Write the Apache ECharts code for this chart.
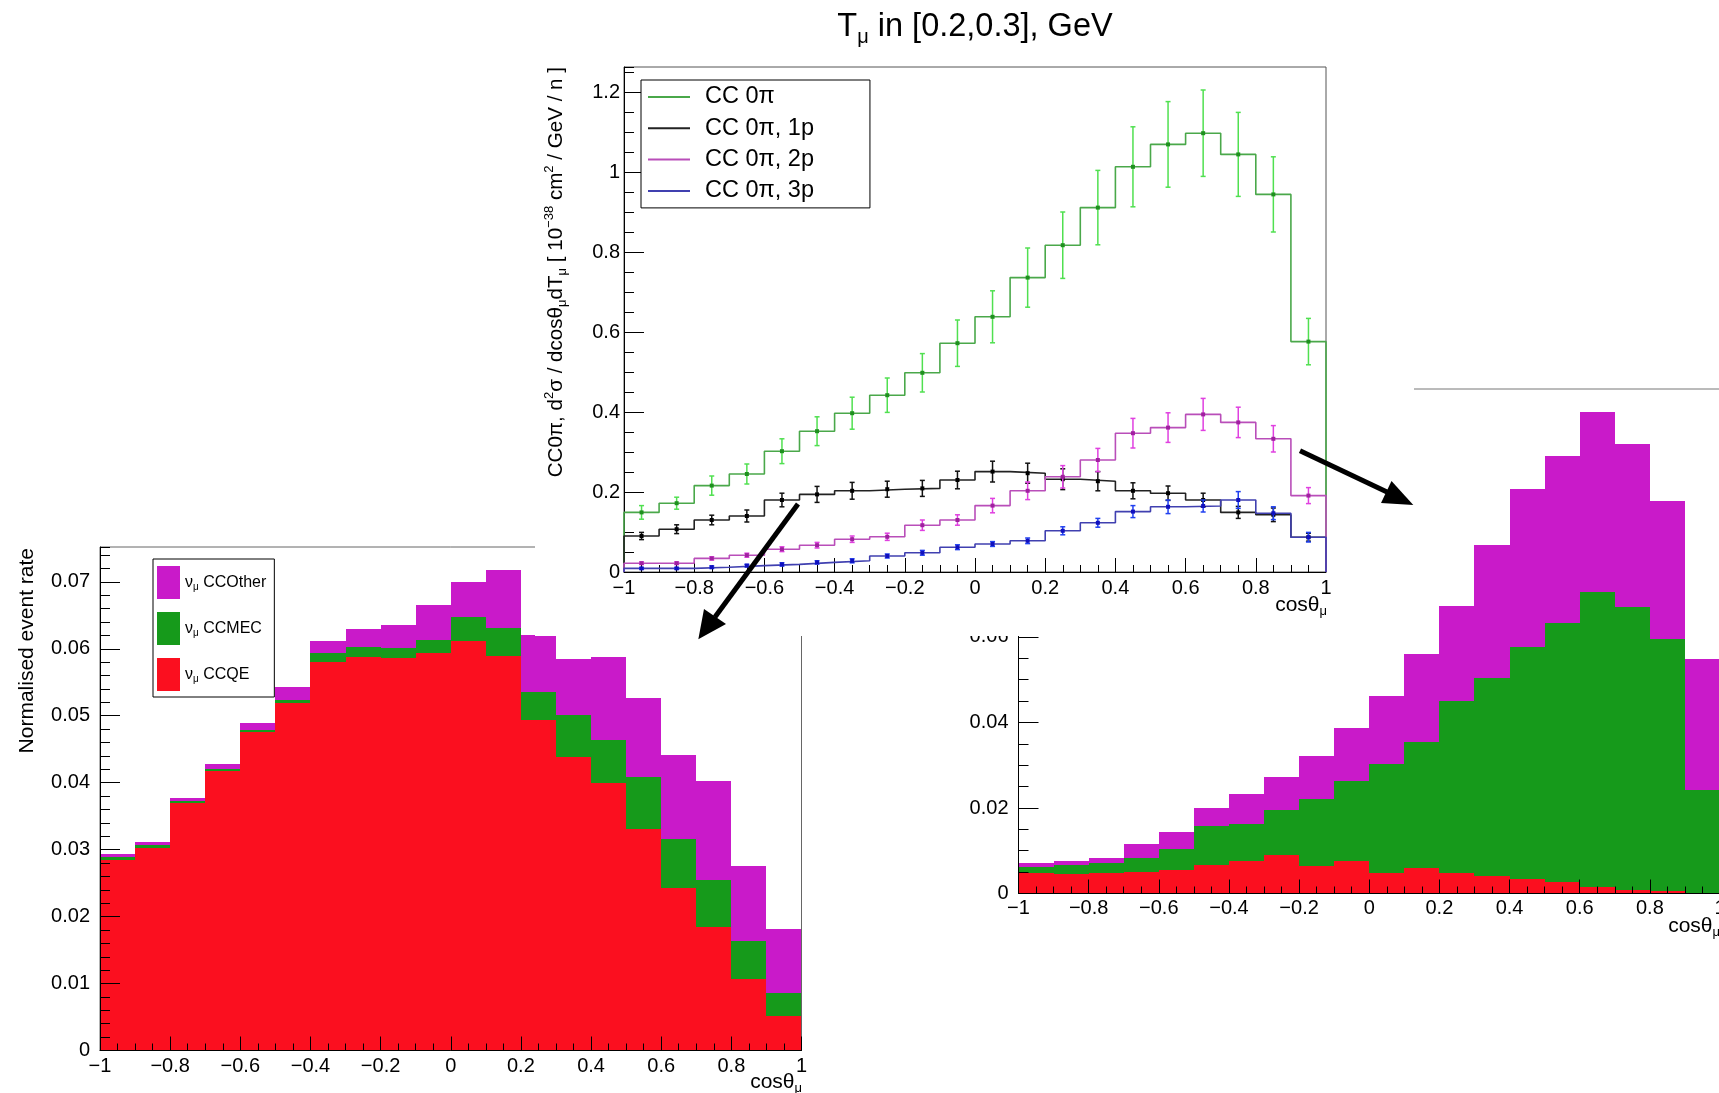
<!DOCTYPE html>
<html><head><meta charset="utf-8">
<script src="https://cdn.jsdelivr.net/npm/echarts@6/dist/echarts.min.js"></script>
<style>html,body{margin:0;padding:0;background:#fff;overflow:hidden}#c{width:1719px;height:1093px}</style>
</head><body><div id="c"></div>
<script>
// ---------- data ----------
const binEdges = [-1,-0.9,-0.8,-0.7,-0.6,-0.5,-0.4,-0.3,-0.2,-0.1,0,0.1,0.2,0.3,0.4,0.5,0.6,0.7,0.8,0.9,1];

// central panel: CC0pi cross sections (1e-38 cm2/GeV/n)
const seriesNames = ['CC 0π', 'CC 0π, 1p', 'CC 0π, 2p', 'CC 0π, 3p'];
const cc0pi     = [0.149,0.172,0.216,0.245,0.302,0.352,0.397,0.442,0.498,0.572,0.638,0.736,0.817,0.911,1.013,1.069,1.097,1.044,0.944,0.576];
const cc0piErr  = [0.017,0.015,0.024,0.025,0.031,0.036,0.040,0.043,0.048,0.058,0.065,0.074,0.083,0.093,0.100,0.107,0.108,0.105,0.094,0.058];
const cc0pi1p    = [0.090,0.107,0.130,0.140,0.180,0.194,0.203,0.207,0.209,0.230,0.251,0.247,0.232,0.227,0.203,0.197,0.180,0.149,0.143,0.087];
const cc0pi1pErr = [0.009,0.011,0.012,0.015,0.017,0.020,0.021,0.020,0.020,0.022,0.026,0.025,0.026,0.024,0.020,0.018,0.017,0.015,0.017,0.010];
const cc0pi2p    = [0.022,0.022,0.034,0.042,0.057,0.067,0.082,0.088,0.117,0.130,0.166,0.203,0.238,0.280,0.347,0.361,0.394,0.374,0.333,0.191];
const cc0pi2pErr = [0.003,0.003,0.004,0.005,0.006,0.007,0.008,0.009,0.013,0.013,0.018,0.022,0.028,0.029,0.037,0.037,0.040,0.038,0.033,0.020];
const cc0pi3p    = [0.009,0.009,0.012,0.016,0.019,0.024,0.028,0.040,0.048,0.062,0.070,0.078,0.103,0.123,0.151,0.163,0.165,0.180,0.147,0.087];
const cc0pi3pErr = [0.002,0.002,0.003,0.003,0.004,0.004,0.005,0.005,0.006,0.006,0.006,0.007,0.010,0.011,0.015,0.017,0.015,0.021,0.016,0.012];

// left panel: normalised event rate, stacked (bottom -> top)
const leftNames = ['CCOther', 'CCMEC', 'CCQE'];
const leftCCQE    = [0.0284,0.0303,0.0369,0.0417,0.0475,0.0519,0.0580,0.0587,0.0586,0.0593,0.0612,0.0589,0.0494,0.0438,0.0399,0.0331,0.0243,0.0185,0.0107,0.0052];
const leftCCMEC   = [0.0005,0.0004,0.0003,0.0004,0.0003,0.0005,0.0013,0.0015,0.0015,0.0020,0.0035,0.0042,0.0041,0.0063,0.0064,0.0078,0.0073,0.0069,0.0057,0.0034];
const leftCCOther = [0.0005,0.0005,0.0005,0.0007,0.0011,0.0019,0.0018,0.0027,0.0035,0.0052,0.0053,0.0087,0.0085,0.0083,0.0124,0.0118,0.0125,0.0148,0.0112,0.0095];

// right panel: normalised event rate, stacked (bottom -> top)
const rightCCQE    = [0.0047,0.0045,0.0048,0.0051,0.0055,0.0066,0.0076,0.0090,0.0065,0.0076,0.0048,0.0060,0.0047,0.0041,0.0035,0.0026,0.0016,0.0009,0.0005,0.0002];
const rightCCMEC   = [0.0015,0.0021,0.0024,0.0033,0.0050,0.0092,0.0086,0.0105,0.0156,0.0187,0.0254,0.0295,0.0403,0.0464,0.0542,0.0606,0.0689,0.0660,0.0590,0.0241];
const rightCCOther = [0.0010,0.0011,0.0012,0.0031,0.0039,0.0042,0.0070,0.0078,0.0100,0.0125,0.0160,0.0205,0.0223,0.0309,0.0368,0.0391,0.0421,0.0382,0.0323,0.0306];

// ---------- helpers ----------
const FONT = '"Liberation Sans", Arial, Helvetica, sans-serif';
const C_RED = '#fb0f1f', C_GREEN = '#169a1b', C_MAG = '#c91ac9';

function stepPoints(vals) {
  const pts = [[binEdges[0], 0]];
  vals.forEach((v, i) => { pts.push([binEdges[i], v]); pts.push([binEdges[i + 1], v]); });
  pts.push([binEdges[binEdges.length - 1], 0]);
  return pts;
}
function errRows(vals, errs) {
  return vals.map((v, i) => [(binEdges[i] + binEdges[i + 1]) / 2, v, errs[i]]);
}
function stackRows(layers) {
  const base = layers[0].map(() => 0);
  return layers.map(l => l.map((v, i) => { const lo = base[i]; base[i] += v; return [binEdges[i], binEdges[i + 1], lo, base[i]]; }));
}
function fmt(v) {
  return parseFloat(Number(v).toFixed(4)).toString().replace('-', '\u2212');
}
function renderFill(params, api) {
  const a = api.coord([api.value(0), api.value(3)]);
  const b = api.coord([api.value(1), api.value(2)]);
  const x0 = Math.round(a[0]), x1 = Math.round(b[0]), y0 = Math.round(a[1]), y1 = Math.round(b[1]);
  return { type: 'rect', shape: { x: x0, y: y0, width: x1 - x0, height: y1 - y0 }, style: { fill: api.visual('color') } };
}
function makeErrRender(errColor, dotColor) {
  return function (params, api) {
    const x = api.value(0), y = api.value(1), e = api.value(2);
    const t = api.coord([x, y + e]), b = api.coord([x, y - e]), c = api.coord([x, y]);
    const st = { stroke: errColor, lineWidth: 1.5 };
    return { type: 'group', children: [
      { type: 'line', shape: { x1: t[0], y1: t[1], x2: b[0], y2: b[1] }, style: st },
      { type: 'line', shape: { x1: t[0] - 2.5, y1: t[1], x2: t[0] + 2.5, y2: t[1] }, style: st },
      { type: 'line', shape: { x1: b[0] - 2.5, y1: b[1], x2: b[0] + 2.5, y2: b[1] }, style: st },
      { type: 'rect', shape: { x: c[0] - 2, y: c[1] - 2, width: 4, height: 4 }, style: { fill: dotColor } }
    ] };
  };
}
function xAxisDef(grid, zl, margin) {
  return { type: 'value', gridIndex: grid, position: 'bottom', min: -1, max: 1, interval: 0.2, zlevel: zl, z: 4,
    axisLine: { show: true, onZero: false, lineStyle: { color: '#000', width: 1 } },
    axisTick: { show: true, inside: true, length: 14, lineStyle: { color: '#000', width: 1 } },
    minorTick: { show: true, splitNumber: 4, length: 7, lineStyle: { color: '#000', width: 1 } },
    axisLabel: { show: true, fontFamily: FONT, fontSize: 20, color: '#000', margin: margin, hideOverlap: false, formatter: fmt },
    splitLine: { show: false }, minorSplitLine: { show: false } };
}
function yAxesDef(grid, zl, max, major, minor, margin) {
  return [
    { type: 'value', gridIndex: grid, position: 'left', min: 0, max: max, interval: major, zlevel: zl, z: 4,
      axisLine: { show: true, onZero: false, lineStyle: { color: '#000', width: 1 } },
      axisTick: { show: true, inside: true, length: 20, lineStyle: { color: '#000', width: 1 } },
      axisLabel: { show: true, fontFamily: FONT, fontSize: 20, color: '#000', margin: margin, showMaxLabel: false, hideOverlap: false,
        formatter: v => (Math.abs(v / major - Math.round(v / major)) < 1e-6 ? fmt(v) : '') },
      splitLine: { show: false } },
    { type: 'value', gridIndex: grid, position: 'left', offset: 0, min: 0, max: max, interval: minor, zlevel: zl, z: 4,
      axisLine: { show: false, onZero: false }, axisLabel: { show: false },
      axisTick: { show: true, inside: true, length: 10, lineStyle: { color: '#000', width: 1 } },
      splitLine: { show: false } }
  ];
}
function richText(x, y, text, rich, align, vAlign, zl, rotation) {
  return { type: 'text', x: x, y: y, rotation: rotation || 0, zlevel: zl, z: 20, silent: true,
    style: { text: text, rich: rich, fill: '#000', font: '20px ' + FONT,
      align: align, verticalAlign: vAlign, textAlign: align, textVerticalAlign: vAlign } };
}
function mkRich(size, lh) {
  return {
    a: { fontSize: size, fontFamily: FONT, fill: '#000', lineHeight: lh },
    sub: { fontSize: Math.round(size * 0.62), fontFamily: FONT, fill: '#000', verticalAlign: 'bottom', lineHeight: Math.round(size * 0.62) },
    sup: { fontSize: Math.round(size * 0.62), fontFamily: FONT, fill: '#000', verticalAlign: 'top', lineHeight: Math.round(size * 0.62) }
  };
}

const leftStack = stackRows([leftCCQE, leftCCMEC, leftCCOther]);
const rightStack = stackRows([rightCCQE, rightCCMEC, rightCCOther]);

const centralStyle = [
  { vals: cc0pi, errs: cc0piErr, line: '#4aa84a', err: '#50e050', dot: '#1f8f1f' },
  { vals: cc0pi1p, errs: cc0pi1pErr, line: '#222222', err: '#111111', dot: '#000000' },
  { vals: cc0pi2p, errs: cc0pi2pErr, line: '#b94eb9', err: '#e040e0', dot: '#a020a0' },
  { vals: cc0pi3p, errs: cc0pi3pErr, line: '#4040b0', err: '#2040f0', dot: '#1010c0' }
];

const series = [];
// left fills
[C_RED, C_GREEN, C_MAG].forEach((col, k) => {
  series.push({ type: 'custom', name: leftNames[2 - k], xAxisIndex: 0, yAxisIndex: 0, zlevel: 0, z: 2,
    itemStyle: { color: col }, renderItem: renderFill, data: leftStack[k], silent: true });
});
// right fills
[C_RED, C_GREEN, C_MAG].forEach((col, k) => {
  series.push({ type: 'custom', name: 'R ' + leftNames[2 - k], xAxisIndex: 1, yAxisIndex: 2, zlevel: 0, z: 2,
    itemStyle: { color: col }, renderItem: renderFill, data: rightStack[k], silent: true });
});
// central step lines + error bars
centralStyle.forEach((s, k) => {
  series.push({ type: 'line', name: seriesNames[k], xAxisIndex: 2, yAxisIndex: 4, zlevel: 1, z: 5,
    symbol: 'none', showSymbol: false, silent: true,
    lineStyle: { color: s.line, width: 1.6 }, itemStyle: { color: s.line },
    data: stepPoints(s.vals) });
  series.push({ type: 'custom', name: seriesNames[k] + ' err', xAxisIndex: 2, yAxisIndex: 4, zlevel: 1, z: 6,
    itemStyle: { color: s.err }, renderItem: makeErrRender(s.err, s.dot), data: errRows(s.vals, s.errs), silent: true });
});

const yL = yAxesDef(0, 0, 0.0752, 0.01, 0.002, 10);
const yR = yAxesDef(1, 0, 0.118, 0.02, 0.005, 10);
const yC = yAxesDef(2, 1, 1.2625, 0.2, 0.05, 4);

const richC = mkRich(20.6, 26);
const arrowStyle = { stroke: '#000', lineWidth: 5, lineCap: 'butt' };

const option = {
  backgroundColor: '#ffffff',
  animation: false,
  textStyle: { fontFamily: FONT },
  grid: [
    { left: 100, top: 547, width: 701.5, height: 503.5, show: true, borderColor: '#666', borderWidth: 1, backgroundColor: 'transparent', zlevel: 0, z: 3, outerBoundsMode: 'none', containLabel: false },
    { left: 1018.5, top: 389, width: 701.5, height: 504.5, show: true, borderColor: '#777', borderWidth: 1, backgroundColor: 'transparent', zlevel: 0, z: 3, outerBoundsMode: 'none', containLabel: false },
    { left: 624, top: 67, width: 702, height: 505, show: true, borderColor: '#555', borderWidth: 1, backgroundColor: 'transparent', zlevel: 1, z: 3, outerBoundsMode: 'none', containLabel: false }
  ],
  xAxis: [xAxisDef(0, 0, 6), xAxisDef(1, 0, 5), xAxisDef(2, 1, 6)],
  yAxis: [yL[0], yL[1], yR[0], yR[1], yC[0], yC[1]],
  legend: [
    { data: seriesNames, orient: 'vertical', left: 641, top: 80, zlevel: 1, z: 10,
      icon: 'rect', itemWidth: 42, itemHeight: 2, itemGap: 7.3, selectedMode: false,
      padding: [5, 56, 5, 7], borderColor: '#000', borderWidth: 1, backgroundColor: '#fff', borderRadius: 0,
      textStyle: { fontFamily: FONT, fontSize: 23.5, color: '#000', lineHeight: 22, padding: [0, 0, 0, 10] } },
    { data: leftNames, orient: 'vertical', left: 153, top: 559, zlevel: 0, z: 10,
      icon: 'rect', itemWidth: 23, itemHeight: 33, itemGap: 13, selectedMode: false,
      padding: [7, 8, 6, 4], borderColor: '#000', borderWidth: 1, backgroundColor: '#fff', borderRadius: 0,
      formatter: name => '{g|ν}{s|μ}{g| ' + name + '}',
      textStyle: { fontFamily: FONT, fontSize: 16, color: '#000',
        rich: { g: { fontFamily: FONT, fontSize: 16, color: '#000', lineHeight: 20 },
                s: { fontFamily: FONT, fontSize: 10, color: '#000', verticalAlign: 'bottom', lineHeight: 12 } } } }
  ],
  graphic: { elements: [
    // background of the central (overlaid) figure
    { type: 'rect', zlevel: 1, z: 0, silent: true, shape: { x: 535, y: 0, width: 879, height: 636 }, style: { fill: '#fff' } },
    // title
    richText(975, 27, '{a|T}{sub|μ}{a| in [0.2,0.3], GeV}', mkRich(32.5, 40), 'center', 'middle', 1),
    // central axis titles
    richText(1327, 605, '{a|cosθ}{sub|μ}', mkRich(21, 26), 'right', 'middle', 1),
    richText(556, 67, '{a|CC0π, d}{sup|2}{a|σ / dcosθ}{sub|μ}{a|dT}{sub|μ}{a| [ 10}{sup|−38}{a| cm}{sup|2}{a| / GeV / n ]}', richC, 'right', 'middle', 1, Math.PI / 2),
    // left axis titles
    richText(27, 548, '{a|Normalised event rate}', mkRich(21, 26), 'right', 'middle', 0, Math.PI / 2),
    richText(802, 1082, '{a|cosθ}{sub|μ}', mkRich(21, 26), 'right', 'middle', 0),
    // right axis title
    richText(1720, 926, '{a|cosθ}{sub|μ}', mkRich(21, 26), 'right', 'middle', 0),
    // arrows
    { type: 'polyline', zlevel: 2, z: 30, silent: true, shape: { points: [[798, 504], [715, 617]] }, style: arrowStyle },
    { type: 'polygon', zlevel: 2, z: 30, silent: true, shape: { points: [[698.3, 639.3], [726, 624], [704, 609]] }, style: { fill: '#000' } },
    { type: 'polyline', zlevel: 2, z: 30, silent: true, shape: { points: [[1300, 450.7], [1387, 492]] }, style: arrowStyle },
    { type: 'polygon', zlevel: 2, z: 30, silent: true, shape: { points: [[1413.3, 505], [1381, 503], [1391.5, 481]] }, style: { fill: '#000' } }
  ] },
  series: series
};

const chart = echarts.init(document.getElementById('c'), null, { renderer: 'canvas', width: 1719, height: 1093 });
chart.setOption(option);
</script></body></html>
